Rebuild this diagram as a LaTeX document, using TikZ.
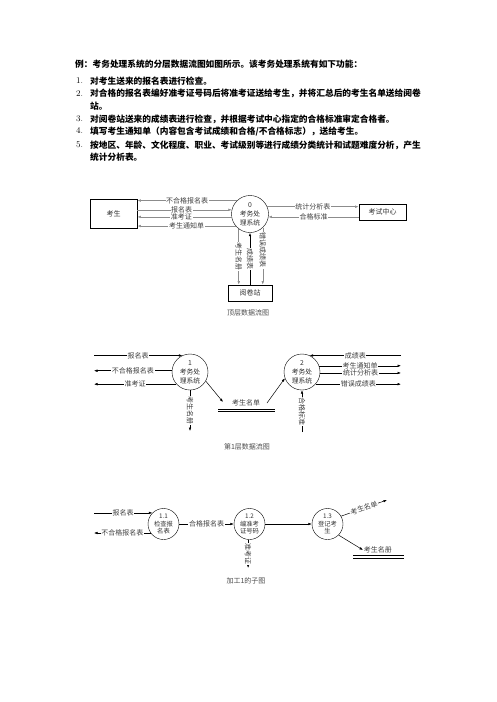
\documentclass[tikz,border=0pt]{standalone}
\usepackage{fontspec}
\newfontfamily\cjk{Noto Sans CJK SC}
\usetikzlibrary{positioning, shapes.geometric, arrows.meta}

\begin{document}
\begin{tikzpicture}[x=1pt, y=-1pt,
  font=\cjk\fontsize{7}{8}\selectfont,
  txt/.style={anchor=west, inner sep=0pt, font=\cjk\bfseries\fontsize{8.7}{10}\selectfont},
  num/.style={anchor=west, inner sep=0pt, font=\rmfamily\fontsize{8.7}{10}\selectfont},
  proc/.style={draw, circle, minimum size=37pt, inner sep=0pt, align=center,
    text=black!80, font=\cjk\fontsize{6.8}{9}\selectfont},
  subp/.style={proc, minimum size=31pt, font=\cjk\fontsize{6.3}{7.4}\selectfont},
  ext/.style={draw, line width=0.9pt, rectangle, minimum width=47pt, inner sep=0pt, text=black!80},
  flow/.style={-{Latex[length=3.5pt,width=2.6pt]}, line width=0.5pt, black},
  greyline/.style={black!45},
  lbl/.style={fill=white, inner sep=0.6pt, text=black!75},
  vlbl/.style={lbl, rotate=-90},
  captext/.style={text=black!70},
  store/.style={line width=0.7pt}]
  \useasboundingbox (0,0) rectangle (496,702);

  \draw (75,64) node[txt] (t0) {例：考务处理系统的分层数据流图如图所示。该考务处理系统有如下功能：};
  \draw (76,81) node[num] (n1) {1.}; \draw (90,81) node[txt] (t1) {对考生送来的报名表进行检查。};
  \draw (76,93.5) node[num] (n2) {2.}; \draw (90,93.5) node[txt] (t2) {对合格的报名表编好准考证号码后将准考证送给考生，并将汇总后的考生名单送给阅卷};
  \draw (90,106) node[txt] (t2b) {站。};
  \draw (76,119) node[num] (n3) {3.}; \draw (90,119) node[txt] (t3) {对阅卷站送来的成绩表进行检查，并根据考试中心指定的合格标准审定合格者。};
  \draw (76,131) node[num] (n4) {4.}; \draw (90,131) node[txt] (t4) {填写考生通知单（内容包含考试成绩和合格/不合格标志），送给考生。};
  \draw (76,145) node[num] (n5) {5.}; \draw (90,145) node[txt] (t5) {按地区、年龄、文化程度、职业、考试级别等进行成绩分类统计和试题难度分析，产生};
  \draw (90,157.5) node[txt] (t5b) {统计分析表。};

  \draw (113.5,213.5) node[ext, minimum height=29pt] (ks) {考生};
  \draw (250,214) node[proc] (p0) {0\\考务处\\理系统};
  \draw (382.5,212) node[ext, minimum height=16pt] (kszx) {考试中心};
  \draw (250,293) node[ext, minimum width=44pt, minimum height=16pt] (yjz) {阅卷站};
  \draw (248,313) node[captext] (cap0) {顶层数据流图};

  \draw[flow, greyline] (p0.134) -- node[lbl] {不合格报名表} (ks.east |- p0.134);
  \draw[flow, greyline] (ks.east |- p0.167) -- node[lbl, xshift=-3pt] {报名表} (p0.167);
  \draw[flow, greyline] (p0.189) -- node[lbl, xshift=-3pt] {准考证} (ks.east |- p0.189);
  \draw[flow, greyline] (p0.220) -- node[lbl] {考生通知单} (ks.east |- p0.220);
  \draw[flow, greyline] (p0.23) -- node[lbl] {统计分析表} (kszx.west |- p0.23);
  \draw[flow, greyline] (kszx.west |- p0.-9) -- node[lbl] {合格标准} (p0.-9);
  \draw[flow, greyline] (p0.233.5) -- node[vlbl] {考生名册} (p0.233.5 |- yjz.north);
  \draw[flow, line width=0.9pt] (yjz.north) -- node[vlbl] {成绩表} (p0.south);
  \draw[flow, greyline] (p0.313) -- node[vlbl, pos=0.4] {错误成绩表} (p0.313 |- yjz.north);

  \draw (190,372) node[proc, minimum size=36pt] (p1) {1\\考务处\\理系统};
  \draw (302,372) node[proc, minimum size=36pt] (p2) {2\\考务处\\理系统};
  \coordinate (left1) at (94,0); \coordinate (right2) at (401,0);
  \coordinate (mc1) at (190,431); \coordinate (hg2) at (302,432);
  \coordinate (md1) at (223,402); \coordinate (md2) at (267,403);

  \draw[flow] (left1 |- p1.115) -- node[lbl] {报名表} (p1.115);
  \draw[flow] (p1.176) -- node[lbl] {不合格报名表} (left1 |- p1.176);
  \draw[flow] (p1.222) -- node[lbl] {准考证} (left1 |- p1.222);
  \draw[flow] (p1.south) -- node[vlbl] {考生名册} (mc1);
  \draw[flow] (p1.-30) -- (md1);
  \draw (246,403) node[lbl] (md) {考生名单};
  \draw[store] (218,409.3) -- (275,409.3) (218,411.6) -- (275,411.6);
  \draw[flow] (md2) -- (p2.200);
  \draw[flow] (right2 |- p2.65) -- node[lbl] {成绩表} (p2.65);
  \draw[flow] (p2.20) -- node[lbl] {考生通知单} (right2 |- p2.20);
  \draw[flow] (p2.-3) -- node[lbl] {统计分析表} (right2 |- p2.-3);
  \draw[flow] (p2.-42) -- node[lbl] {错误成绩表} (right2 |- p2.-42);
  \draw[flow] (hg2) -- node[vlbl] {合格标准} (p2.south);
  \draw (247,447) node[captext] (cap1) {第1层数据流图};

  \draw (163.5,524) node[subp] (p11) {1.1\\检查报\\名表};
  \draw (249.5,524) node[subp] (p12) {1.2\\编准考\\证号码};
  \draw (327.5,524) node[subp] (p13) {1.3\\登记考\\生};
  \coordinate (left3) at (94,0); \coordinate (zkz) at (0,568);
  \coordinate (md3) at (387,500); \coordinate (mc3) at (363,550);

  \draw[flow] (left3 |- p11.135) -- node[lbl] {报名表} (p11.135);
  \draw[flow] (p11.215) -- node[lbl] {不合格报名表} (left3 |- p11.215);
  \draw[flow] (p11) -- node[lbl] {合格报名表} (p12);
  \draw[flow] (p12.265) -- node[vlbl] {准考证} (p12.265 |- zkz);
  \draw[flow] (p12) -- (p13);
  \draw[flow] (p13.30) -- node[lbl, sloped] {考生名单} (md3);
  \draw[flow] (p13.-45) -- (mc3);
  \draw (mc3) node[lbl, right] (mcl) {考生名册};
  \draw[store] (353,555.7) -- (404,555.7) (353,558) -- (404,558);
  \draw (246,581) node[captext] (cap2) {加工1的子图};

\end{tikzpicture}
\end{document}
